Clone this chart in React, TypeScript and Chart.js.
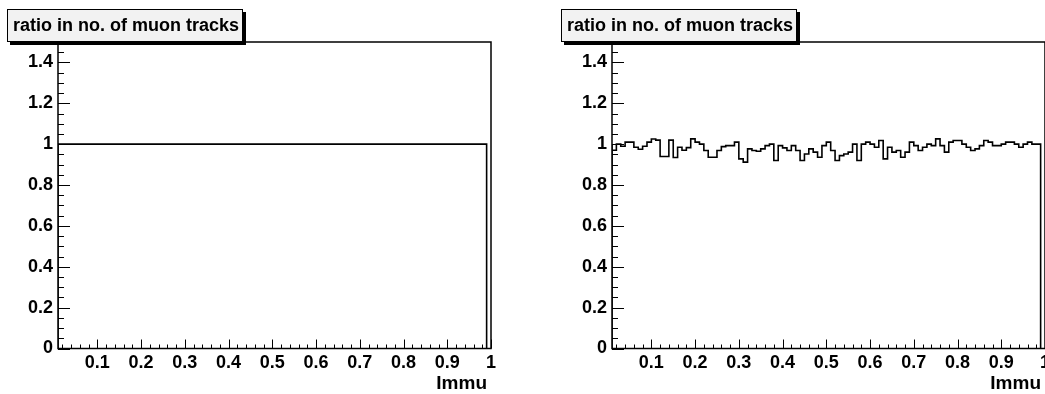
import React, { useEffect, useRef } from "react";
import { Chart, registerables } from "chart.js";

Chart.register(...registerables);

// ---------- data ----------
const binStart = 0.01;
const binWidth = 0.01;

const leftRatio: number[] = [
  1, 1, 1, 1, 1, 1, 1, 1, 1, 1, 1, 1, 1, 1, 1, 1, 1, 1, 1, 1,
  1, 1, 1, 1, 1, 1, 1, 1, 1, 1, 1, 1, 1, 1, 1, 1, 1, 1, 1, 1,
  1, 1, 1, 1, 1, 1, 1, 1, 1, 1, 1, 1, 1, 1, 1, 1, 1, 1, 1, 1,
  1, 1, 1, 1, 1, 1, 1, 1, 1, 1, 1, 1, 1, 1, 1, 1, 1, 1, 1, 1,
  1, 1, 1, 1, 1, 1, 1, 1, 1, 1, 1, 1, 1, 1, 1, 1, 1, 1,
];

const rightRatio: number[] = [
  1.0, 0.97, 1.0, 0.99, 1.01, 1.01, 0.985, 0.975, 0.99, 1.01, 1.025, 1.02, 0.94, 0.94, 1.02, 0.935, 0.985,
  0.97, 0.983, 1.026, 1.01, 1.0, 0.969, 0.936, 0.936, 0.969, 0.988, 0.993, 0.993, 1.01, 0.928, 0.912, 0.977, 0.969,
  0.965, 0.977, 0.993, 1.0, 0.92, 0.993, 0.982, 0.969, 0.993, 0.969, 0.92, 0.952, 0.977, 0.961, 0.936, 0.993, 1.01, 0.969,
  0.92, 0.944, 0.952, 0.961, 1.0, 0.92, 1.0, 1.01, 1.0, 0.985, 1.018, 0.928, 0.985, 0.961, 0.969,
  0.936, 0.961, 1.01, 0.993, 0.969, 0.985, 1.0, 0.993, 1.026, 0.993, 0.961, 1.01, 1.018, 1.018, 1.0, 0.985, 0.969, 0.977,
  0.993, 1.018, 1.01, 0.993, 0.993, 1.0, 1.01, 1.01, 1.0, 0.985, 1.0, 1.01, 1.0,
];

const xTickValues = [0.1, 0.2, 0.3, 0.4, 0.5, 0.6, 0.7, 0.8, 0.9, 1];
const yTickValues = [0, 0.2, 0.4, 0.6, 0.8, 1, 1.2, 1.4];
const titleText = "ratio in no. of muon tracks";
const xAxisTitle = "Immu";

const X_MIN = 0.01;
const X_MAX = 1.0;
const Y_MIN = 0;
const Y_MAX = 1.5;

const FONT = '"Liberation Sans", Arial, Helvetica, sans-serif';

function buildPoints(values: number[]) {
  const pts: { x: number; y: number }[] = [];
  pts.push({ x: binStart, y: 0 });
  values.forEach((v, i) => pts.push({ x: binStart + i * binWidth, y: v }));
  const end = binStart + values.length * binWidth;
  pts.push({ x: end, y: values[values.length - 1] });
  pts.push({ x: end, y: 0 });
  return pts;
}

const rootDecor = {
  id: "rootDecor",
  afterDraw(chart: any) {
    const { ctx, chartArea: a, scales } = chart;
    const xs = scales.x;
    const ys = scales.y;
    ctx.save();
    ctx.strokeStyle = "#000";
    ctx.lineWidth = 1;
    ctx.beginPath();
    // y ticks (inside)
    for (let k = 0; k <= 30; k++) {
      const v = k * 0.05;
      if (v > Y_MAX + 1e-9) break;
      const py = Math.round(ys.getPixelForValue(v)) + 0.5;
      const major = k % 4 === 0;
      ctx.moveTo(a.left, py);
      ctx.lineTo(a.left + (major ? 12 : 6), py);
    }
    // x ticks (inside)
    for (let k = 1; k <= 50; k++) {
      const v = k * 0.02;
      if (v < X_MIN - 1e-9 || v > X_MAX + 1e-9) continue;
      const px = Math.round(xs.getPixelForValue(v)) + 0.5;
      const major = k % 5 === 0;
      ctx.moveTo(px, a.bottom);
      ctx.lineTo(px, a.bottom - (major ? 9 : 4));
    }
    ctx.stroke();

    // frame
    ctx.lineWidth = 1.5;
    ctx.strokeRect(a.left, a.top, a.right - a.left, a.bottom - a.top);

    // title box with shadow
    const bx = 7, by = 9, bw = 236, bh = 33;
    ctx.fillStyle = "#000";
    ctx.fillRect(bx + 3, by + 3, bw, bh);
    ctx.fillStyle = "#f2f2f2";
    ctx.fillRect(bx, by, bw, bh);
    ctx.lineWidth = 1;
    ctx.strokeRect(bx + 0.5, by + 0.5, bw - 1, bh - 1);
    ctx.fillStyle = "#000";
    ctx.font = `bold 18px ${FONT}`;
    ctx.textBaseline = "middle";
    ctx.textAlign = "left";
    ctx.fillText(titleText, bx + 6, by + bh / 2 + 1);

    // x axis title
    ctx.textAlign = "right";
    ctx.font = `bold 19px ${FONT}`;
    ctx.fillText(xAxisTitle, xs.right - 4, 384);
    ctx.restore();
  },
};

function Panel({ values, left }: { values: number[]; left: number }) {
  const ref = useRef<HTMLCanvasElement>(null);
  useEffect(() => {
    if (!ref.current) return;
    const chart = new Chart(ref.current, {
      type: "line",
      data: {
        datasets: [
          {
            data: buildPoints(values),
            stepped: "after",
            borderColor: "#000",
            borderWidth: 1.6,
            pointRadius: 0,
            fill: false,
          },
        ],
      },
      options: {
        responsive: false,
        animation: false,
        devicePixelRatio: 1,
        layout: { padding: { left: 0, right: 63, top: 42, bottom: 0 } },
        plugins: { legend: { display: false }, tooltip: { enabled: false }, title: { display: false } },
        scales: {
          x: {
            type: "linear",
            min: X_MIN,
            max: X_MAX,
            afterBuildTicks: (s: any) => {
              s.ticks = xTickValues.map((value) => ({ value }));
            },
            afterFit: (s: any) => {
              s.height = 45.5;
            },
            grid: { display: false, drawTicks: false },
            border: { display: false },
            ticks: {
              color: "#000",
              font: { family: FONT, weight: "bold", size: 18 },
              padding: 4,
              maxRotation: 0,
              autoSkip: false,
              callback: (v: any) => String(v),
            },
          },
          y: {
            type: "linear",
            min: Y_MIN,
            max: Y_MAX,
            afterBuildTicks: (s: any) => {
              s.ticks = yTickValues.map((value) => ({ value }));
            },
            afterFit: (s: any) => {
              s.width = 58;
            },
            grid: { display: false, drawTicks: false },
            border: { display: false },
            ticks: {
              color: "#000",
              font: { family: FONT, weight: "bold", size: 18 },
              padding: 5,
              autoSkip: false,
              callback: (v: any) => String(v),
            },
          },
        },
      },
      plugins: [rootDecor],
    } as any);
    return () => chart.destroy();
  }, [values]);
  return (
    <canvas
      ref={ref}
      width={554}
      height={394}
      style={{ position: "absolute", left, top: 0, width: 554, height: 394 }}
    />
  );
}

export default function App() {
  return (
    <div
      style={{
        position: "absolute",
        left: 0,
        top: 0,
        width: 1045,
        height: 394,
        overflow: "hidden",
        background: "#fff",
      }}
    >
      <Panel values={leftRatio} left={0} />
      <Panel values={rightRatio} left={554} />
    </div>
  );
}
